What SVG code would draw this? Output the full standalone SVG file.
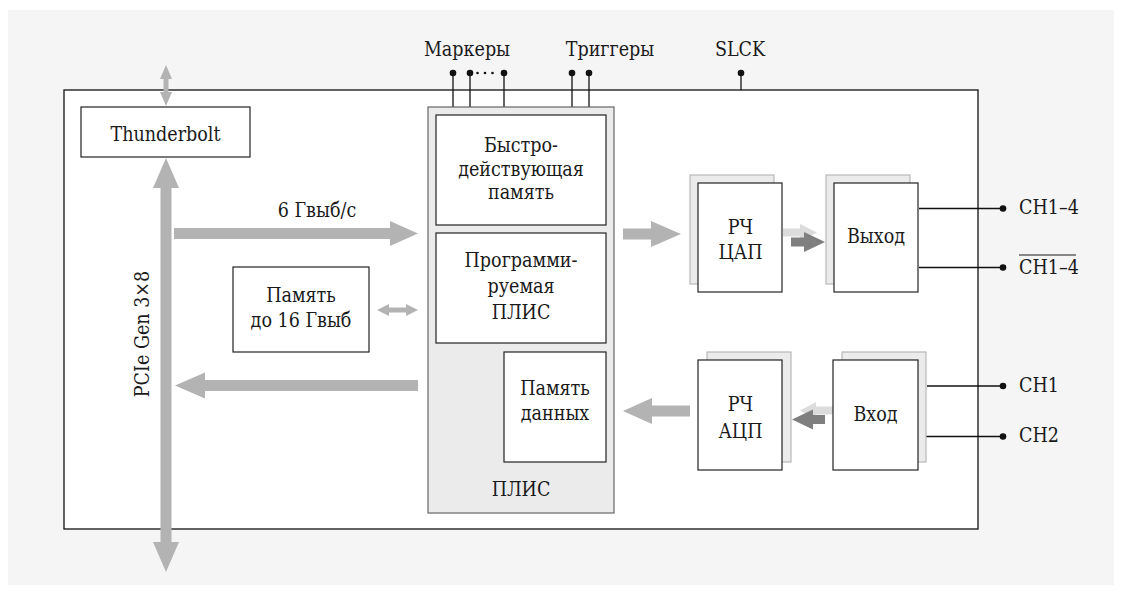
<svg xmlns="http://www.w3.org/2000/svg" width="1122" height="595" viewBox="0 0 1122 595">
<style>
text{font-family:"DejaVu Serif Condensed","DejaVu Serif","Liberation Serif",serif;font-size:19.5px;fill:#1a1a1a;text-anchor:middle}
.box{fill:#fff;stroke:#222;stroke-width:1.2}
.shadow{fill:#ebebeb;stroke:#b8b8b8;stroke-width:1.2}
.arr{fill:#b3b3b3}
.dark{fill:#7f7f7f}
.light{fill:#dcdcdc}
.wire{stroke:#111;stroke-width:1.3;fill:none}
.dot{fill:#111}
.lbl{text-anchor:start}
</style>
<rect x="8" y="10" width="1106" height="575" fill="#f5f5f5"/>
<rect id="main" x="64" y="90" width="914" height="439" fill="#fff" stroke="#111" stroke-width="1.3"/>

<g id="connectors">
  <polygon class="arr" points="166,65 172,79 168.5,79 168.5,92 172,92 166,106 160,92 163.5,92 163.5,79 160,79"/>
  <polygon class="arr" points="166,158 179,188 171.5,188 171.5,542 179,542 166,572 153,542 160.5,542 160.5,188 153,188"/>
  <polygon class="arr" points="174,228 390,228 390,221 418,233.5 390,246 390,239 174,239"/>
  <polygon class="arr" points="418,380 205,380 205,372.5 175,385.5 205,398.5 205,391 418,391"/>
  <polygon class="arr" points="377,310 389,304 389,307.5 406,307.5 406,304 418,310 406,316 406,312.5 389,312.5 389,316"/>
  <polygon class="arr" points="623,228.5 651,228.5 651,221 681,234 651,247 651,239.5 623,239.5"/>
  <polygon class="arr" points="690,405.5 652,405.5 652,398 623,411 652,424 652,416.5 690,416.5"/>
  <polygon class="light" points="783,228.5 800,228.5 800,224 817,232.5 800,241 800,236.5 783,236.5"/>
  <polygon class="dark" points="791,237.5 804,237.5 804,232 825,242 804,252 804,246.5 791,246.5"/>
  <polygon class="light" points="833,406.5 816,406.5 816,402 800,410.5 816,419 816,414.5 833,414.5"/>
  <polygon class="dark" points="825,415 813,415 813,409.5 792,419.5 813,429.5 813,424 825,424"/>
  <line class="wire" x1="453" y1="73" x2="453" y2="107"/>
  <line class="wire" x1="470" y1="73" x2="470" y2="107"/>
  <line class="wire" x1="504" y1="73" x2="504" y2="107"/>
  <line class="wire" x1="572" y1="73" x2="572" y2="107"/>
  <line class="wire" x1="589" y1="73" x2="589" y2="107"/>
  <line class="wire" x1="741" y1="73" x2="741" y2="90"/>
  <circle class="dot" cx="453" cy="73" r="3.3"/>
  <circle class="dot" cx="470" cy="73" r="3.3"/>
  <circle class="dot" cx="504" cy="73" r="3.3"/>
  <circle class="dot" cx="572" cy="73" r="3.3"/>
  <circle class="dot" cx="589" cy="73" r="3.3"/>
  <circle class="dot" cx="741" cy="73" r="3.3"/>
  <circle class="dot" cx="477.5" cy="73" r="1.3"/>
  <circle class="dot" cx="485" cy="73" r="1.3"/>
  <circle class="dot" cx="492.5" cy="73" r="1.3"/>
  <line class="wire" x1="919" y1="208.5" x2="1003" y2="208.5"/>
  <line class="wire" x1="919" y1="267.5" x2="1003" y2="267.5"/>
  <line class="wire" x1="927" y1="386" x2="1003" y2="386"/>
  <line class="wire" x1="919" y1="436.5" x2="1003" y2="436.5"/>
  <circle class="dot" cx="1003" cy="208.5" r="3.3"/>
  <circle class="dot" cx="1003" cy="267.5" r="3.3"/>
  <circle class="dot" cx="1003" cy="386" r="3.3"/>
  <circle class="dot" cx="1003" cy="436.5" r="3.3"/>
</g>

<g id="labels">
  <text x="467" y="56">Маркеры</text>
  <text x="610" y="56">Триггеры</text>
  <text x="740" y="56">SLCK</text>
  <text x="317" y="217">6 Гвыб/с</text>
  <text transform="translate(149,334) rotate(-90)">PCIe Gen 3×8</text>
  <text class="lbl" x="1019" y="214">CH1–4</text>
  <text class="lbl" x="1019" y="274">CH1–4</text>
  <line x1="1019" y1="255" x2="1076" y2="255" stroke="#1a1a1a" stroke-width="1.2"/>
  <text class="lbl" x="1019" y="392">CH1</text>
  <text class="lbl" x="1019" y="442">CH2</text>
</g>

<g id="thunderbolt">
  <rect class="box" x="81" y="107" width="169" height="50"/>
  <text x="165.5" y="141">Thunderbolt</text>
</g>

<g id="memory">
  <rect class="box" x="233" y="267" width="136" height="85"/>
  <text x="301" y="302">Память</text>
  <text x="301" y="327">до 16 Гвыб</text>
</g>

<g id="fpga">
  <rect x="428" y="107" width="186" height="406" fill="#ebebeb" stroke="#666" stroke-width="1.2"/>
  <text x="521" y="496">ПЛИС</text>
</g>

<g id="fastmem">
  <rect class="box" x="436" y="115" width="170" height="110"/>
  <text x="521" y="152">Быстро-</text>
  <text x="521" y="175.5">действующая</text>
  <text x="521" y="198.5">память</text>
</g>

<g id="progfpga">
  <rect class="box" x="436" y="233" width="170" height="110"/>
  <text x="521" y="267">Программи-</text>
  <text x="521" y="292.5">руемая</text>
  <text x="521" y="319">ПЛИС</text>
</g>

<g id="datamem">
  <rect class="box" x="504" y="352" width="102" height="110"/>
  <text x="555" y="394.5">Память</text>
  <text x="555" y="419.5">данных</text>
</g>

<g id="dac">
  <rect class="shadow" x="690" y="175" width="84" height="109"/>
  <rect class="box" x="698" y="183" width="84" height="109"/>
  <text x="740.5" y="234">РЧ</text>
  <text x="740.5" y="259">ЦАП</text>
</g>

<g id="output">
  <rect class="shadow" x="826" y="175" width="84" height="109"/>
  <rect class="box" x="834" y="183" width="84" height="109"/>
  <text x="876" y="242.5">Выход</text>
</g>

<g id="adc">
  <rect class="shadow" x="707" y="352" width="84" height="110"/>
  <rect class="box" x="698" y="360" width="84" height="110"/>
  <text x="740.5" y="411">РЧ</text>
  <text x="740.5" y="437.5">АЦП</text>
</g>

<g id="input">
  <rect class="shadow" x="842" y="352" width="84" height="110"/>
  <rect class="box" x="833" y="360" width="85" height="110"/>
  <text x="875.5" y="421">Вход</text>
</g>
</svg>
